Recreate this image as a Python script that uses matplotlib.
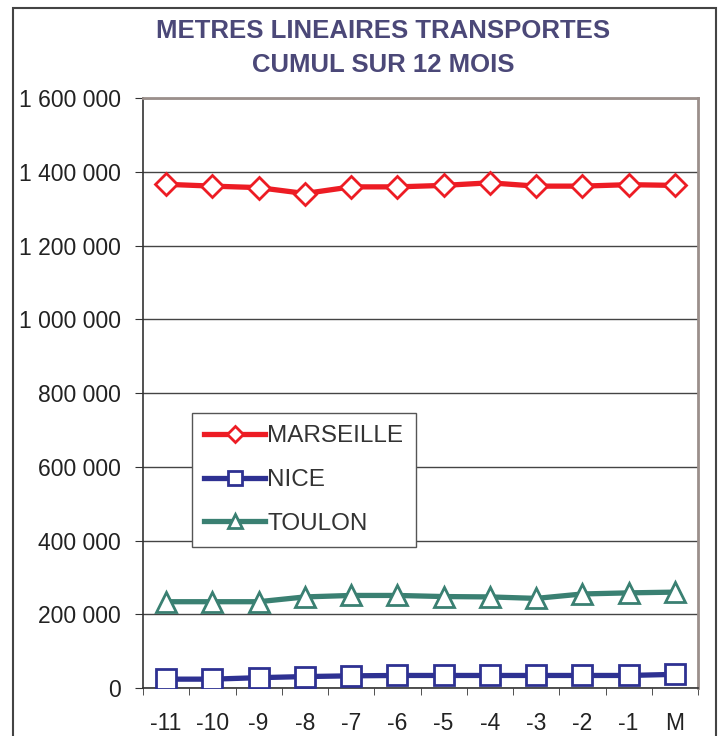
import matplotlib.pyplot as plt
from matplotlib.patches import Rectangle

mois = ['-11', '-10', '-9', '-8', '-7', '-6', '-5', '-4', '-3', '-2', '-1', 'M']
marseille = [1366000, 1361000, 1357000, 1341000, 1359000, 1359000, 1363000, 1370000, 1361000, 1361000, 1365000, 1363000]
nice = [24000, 24000, 28000, 31000, 33000, 34000, 34000, 34000, 34000, 34000, 34000, 37000]
toulon = [234000, 234000, 234000, 247000, 251000, 251000, 248000, 247000, 243000, 255000, 258000, 260000]

plt.rcParams['font.family'] = ['Liberation Sans', 'DejaVu Sans']

fig = plt.figure(figsize=(7.2, 7.36), dpi=100)
ax = fig.add_axes([143/720, 1-688/736, 555/720, 590/736])

x = range(len(mois))
ax.plot(x, marseille, color='#ED1C24', lw=3.8, marker='D', ms=11, mfc='white',
        mec='#ED1C24', mew=2, label='MARSEILLE', zorder=3)
ax.plot(x, nice, color='#2E3192', lw=3.8, marker='s', ms=14, mfc='white',
        mec='#2E3192', mew=2, label='NICE', zorder=3)
ax.plot(x, toulon, color='#3A8072', lw=3.8, marker='^', ms=15, mfc='white',
        mec='#3A8072', mew=2, label='TOULON', zorder=3)

ax.set_xlim(-0.5, len(mois) - 0.5)
ax.set_ylim(0, 1600000)
ax.set_yticks(range(0, 1600001, 200000))
ax.set_yticklabels([f'{v:,}'.replace(',', ' ') for v in range(0, 1600001, 200000)])
ax.set_xticks(list(x))
ax.set_xticklabels(mois)
ax.set_xticks([i - 0.5 for i in range(len(mois) + 1)], minor=True)
ax.tick_params(axis='x', which='major', length=0, pad=17, labelsize=16.5, labelcolor='#222222')
ax.tick_params(axis='x', which='minor', length=5, color='#333333', direction='out')
ax.tick_params(axis='y', length=6, color='#333333', pad=10, labelsize=16.5, labelcolor='#222222')
ax.grid(axis='y', color='#444444', lw=1)
ax.set_axisbelow(True)

for s in ['left', 'bottom']:
    ax.spines[s].set_color('#333333')
    ax.spines[s].set_linewidth(1.2)
for s in ['top', 'right']:
    ax.spines[s].set_color('#9b8f8b')
    ax.spines[s].set_linewidth(2)

leg = ax.legend(loc='upper left', bbox_to_anchor=(192/720, 1-413/736), bbox_transform=fig.transFigure,
                borderaxespad=0, fontsize=17.5, fancybox=False, framealpha=1, edgecolor='#555555',
                handlelength=2.5, handletextpad=0.1, labelspacing=0.9, borderpad=0.5,
                markerscale=0.7)
leg.get_frame().set_linewidth(1)
for t in leg.get_texts():
    t.set_color('#333333')

title_color = '#4B4878'
fig.text(383/720, 1-31/736, 'METRES LINEAIRES TRANSPORTES', ha='center', va='center',
         fontsize=18.5, fontweight='bold', color=title_color)
fig.text(383/720, 1-65/736, 'CUMUL SUR 12 MOIS', ha='center', va='center',
         fontsize=18.5, fontweight='bold', color=title_color)

fig.patches.append(Rectangle((13/720, -0.02), 703/720, 1.02 - 8/736, transform=fig.transFigure,
                             fill=False, edgecolor='#444444', lw=1.5))

fig.savefig('out.png', dpi=100)
